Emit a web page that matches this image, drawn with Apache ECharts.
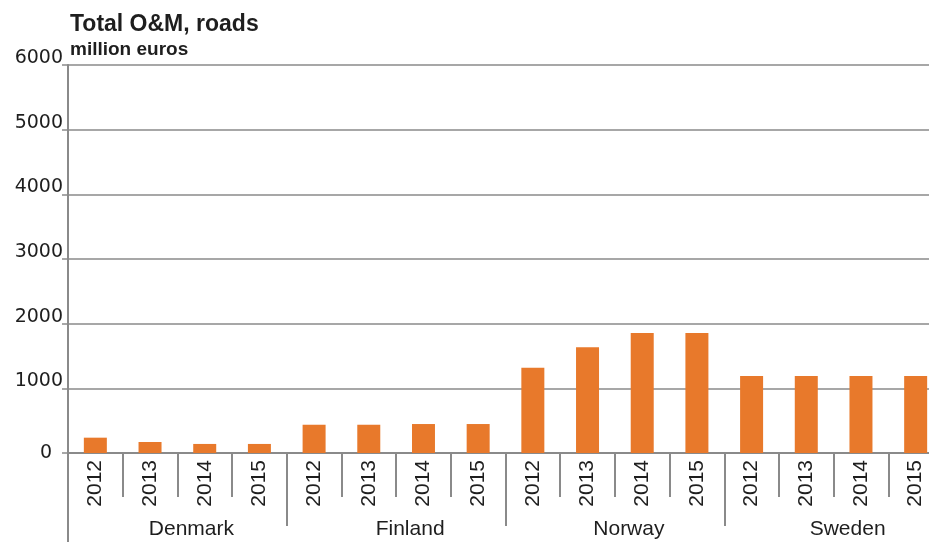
<!DOCTYPE html>
<html>
<head>
<meta charset="utf-8">
<script src="https://cdn.jsdelivr.net/npm/echarts@6/dist/echarts.min.js"></script>
<style>html,body{margin:0;padding:0;background:#fff}#c{width:929px;height:542px}</style>
</head>
<body>
<div id="c"></div>
<script>
const countries = ['Denmark', 'Finland', 'Norway', 'Sweden'];
const years = ['2012', '2013', '2014', '2015'];
const denmark = [237, 170, 140, 140];
const finland = [437, 437, 448, 448];
const norway = [1318, 1634, 1855, 1855];
const sweden = [1190, 1190, 1190, 1190];
const yTicks = [0, 1000, 2000, 3000, 4000, 5000, 6000];

const yearCats = [];
countries.forEach(function (c) { years.forEach(function (y) { yearCats.push(y); }); });
const values = [].concat(denmark, finland, norway, sweden);

const gray = '#8a8a8a';
const txt = '#1e1e1e';
const font = 'Liberation Sans';

const chart = echarts.init(document.getElementById('c'));
chart.setOption({
  animation: false,
  title: {
    text: 'Total O&M, roads',
    subtext: 'million euros',
    left: 70, top: 13, padding: 0,
    itemGap: 4,
    textStyle: { fontFamily: font, fontWeight: 'bold', fontSize: 23, color: txt },
    subtextStyle: { fontFamily: font, fontWeight: 'bold', fontSize: 19, color: txt }
  },
  grid: { left: 68, top: 65, height: 388, width: 875, containLabel: false, outerBoundsMode: 'none' },
  yAxis: {
    type: 'value', min: yTicks[0], max: yTicks[yTicks.length - 1], interval: 1000,
    axisLine: { show: true, lineStyle: { color: gray, width: 2 } },
    axisTick: { show: true, length: 6, lineStyle: { color: gray, width: 1.5 } },
    splitLine: { show: true, lineStyle: { color: gray, width: 1.5 } },
    axisLabel: {
      margin: 5, color: txt, fontFamily: 'DejaVu Sans', fontSize: 19,
      formatter: function (v) { return v === 0 ? '{z|0}' : '{a|' + v + '}'; },
      rich: {
        a: { padding: [0, 0, 14, 0], fontFamily: 'DejaVu Sans', fontSize: 19, color: txt },
        z: { padding: [0, 11, 0, 0], fontFamily: 'DejaVu Sans', fontSize: 19, color: txt }
      }
    }
  },
  xAxis: [
    {
      type: 'category', data: yearCats, position: 'bottom',
      axisLine: { show: true, lineStyle: { color: gray, width: 2 } },
      axisTick: { show: true, interval: 0, length: 44, lineStyle: { color: gray, width: 2 } },
      axisLabel: { interval: 0, rotate: 90, margin: 7, color: txt, fontFamily: font, fontSize: 21 },
      splitLine: { show: false }
    },
    {
      type: 'category', data: yearCats, position: 'bottom',
      axisLine: { show: false },
      axisTick: { show: true, inside: true, alignWithLabel: true, interval: 0, length: 7, lineStyle: { color: gray, width: 1 } },
      axisLabel: { show: false },
      splitLine: { show: false }
    },
    {
      type: 'category', data: countries, position: 'bottom',
      axisLine: { show: false },
      axisTick: { show: true, interval: 0, length: 73, lineStyle: { color: gray, width: 2 } },
      axisLabel: { interval: 0, margin: 66, color: txt, fontFamily: font, fontSize: 21, padding: [0, 0, 0, 28] },
      splitLine: { show: false }
    }
  ],
  series: [{
    type: 'bar', xAxisIndex: 0, data: values, barWidth: 23,
    itemStyle: { color: '#E8792B' }, z: 1
  }],
  graphic: [{
    type: 'line', z: 100,
    shape: { x1: 68, y1: 453, x2: 68, y2: 542 },
    style: { stroke: gray, lineWidth: 2 }
  }]
});
</script>
</body>
</html>
